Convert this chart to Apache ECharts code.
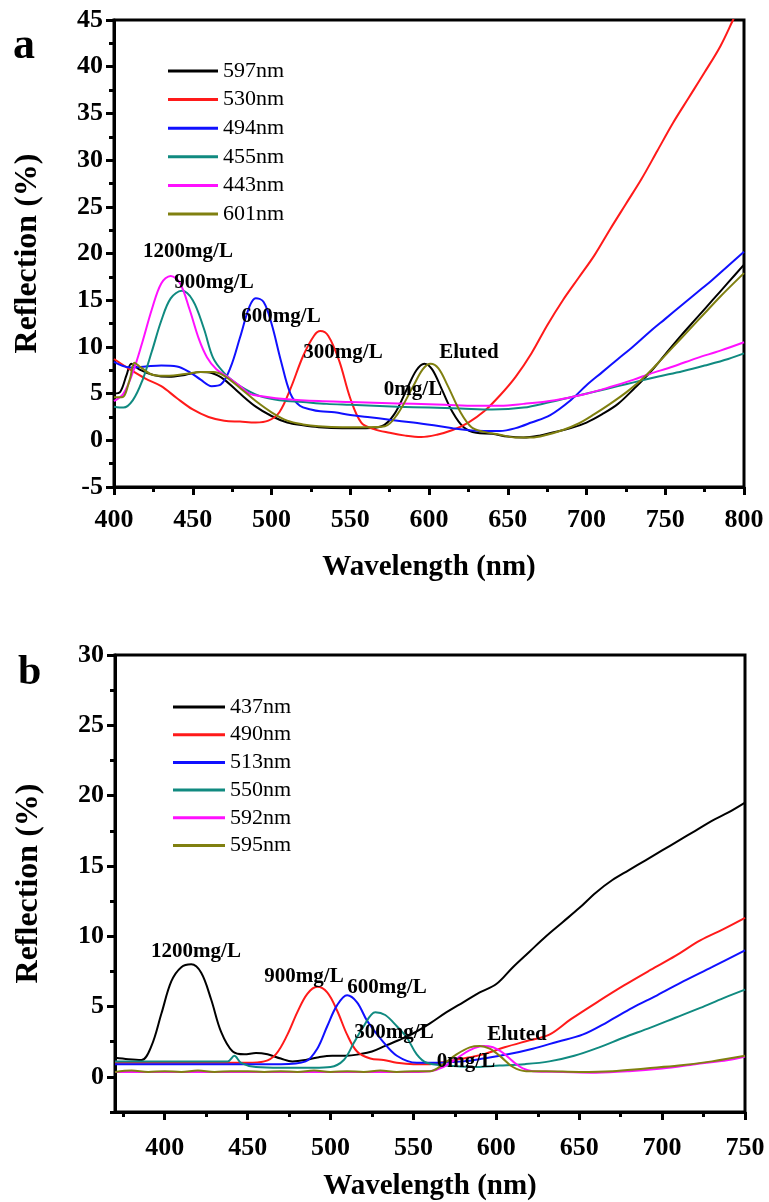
<!DOCTYPE html>
<html>
<head>
<meta charset="utf-8">
<script src="https://cdn.jsdelivr.net/npm/echarts@6/dist/echarts.min.js"></script>
<style>
html,body{margin:0;padding:0;background:#fff;}
#chart{width:769px;height:1202px;}
</style>
</head>
<body>
<div id="chart"></div>
<script>
// ---------- Panel a data ----------
const a597x = [400,404,408,411,416,425,435,445,455,462,470,480,490,500,510,520,530,545,560,570,578,586,592,597,602,608,615,622,630,640,650,660,670,680,690,700,710,720,730,740,750,760,770,780,790,800];
const a597y = [5.0,5.2,7.0,8.2,7.6,7.0,6.8,7.0,7.3,7.2,6.5,5.0,3.6,2.6,1.9,1.6,1.4,1.3,1.3,1.5,2.8,5.5,7.5,8.2,7.6,5.5,3.0,1.4,0.8,0.7,0.4,0.3,0.5,0.9,1.3,1.9,2.8,3.9,5.5,7.2,9.2,11.2,13.1,15.0,16.9,18.8];
const a530x = [400,410,420,430,440,450,460,470,480,490,498,505,512,520,527,531,536,543,550,557,565,575,585,595,605,615,625,635,645,655,665,675,685,695,705,715,725,735,745,755,765,775,785,793,800];
const a530y = [8.7,7.6,6.6,5.8,4.5,3.3,2.5,2.1,2.0,1.9,2.1,3.0,5.5,9.0,11.2,11.7,11.2,8.5,4.5,1.9,1.2,0.8,0.5,0.35,0.6,1.1,1.9,3.1,4.8,6.8,9.3,12.3,15.0,17.4,19.8,22.6,25.3,28.0,31.0,34.0,36.7,39.4,42.2,45.0,47.5];
const a494x = [400,405,410,420,430,440,448,455,462,468,474,480,486,490,495,500,506,512,518,525,531,540,550,561,575,590,603,615,624,635,645,655,665,677,690,700,710,720,730,740,750,760,770,780,790,800];
const a494y = [8.4,8.0,7.8,7.9,8.0,7.9,7.3,6.5,5.8,6.0,7.8,11.0,14.3,15.2,14.8,12.5,8.5,5.0,3.7,3.3,3.1,3.0,2.7,2.5,2.2,1.9,1.6,1.3,1.1,1.0,1.0,1.3,1.9,2.7,4.3,5.9,7.3,8.7,10.1,11.6,13.0,14.4,15.8,17.2,18.7,20.2];
const a455x = [400,406,412,418,424,430,436,443,450,457,463,470,476,483,493,505,520,535,550,565,580,600,620,640,660,677,690,705,720,730,745,761,775,790,800];
const a455y = [3.6,3.5,4.3,6.4,9.5,12.8,15.2,16.0,15.0,12.0,8.8,7.2,6.3,5.5,4.7,4.3,4.1,3.9,3.8,3.7,3.6,3.5,3.4,3.3,3.5,4.1,4.6,5.2,5.8,6.2,6.8,7.4,8.0,8.7,9.3];
const a443x = [400,406,412,418,424,430,436,442,448,454,459,465,472,480,486,495,510,530,550,570,590,610,630,645,660,680,698,715,730,740,755,770,785,800];
const a443y = [4.2,5.0,7.3,10.5,14.0,16.8,17.6,16.8,14.0,10.8,8.9,7.6,6.8,5.8,5.0,4.7,4.4,4.2,4.1,4.0,3.9,3.8,3.7,3.7,3.9,4.3,4.9,5.7,6.5,7.1,7.9,8.8,9.6,10.5];
const a601x = [400,405,410,413,417,425,435,445,455,463,470,480,490,500,510,520,530,545,560,572,580,590,596,601,606,612,620,627,635,645,655,665,675,685,695,705,715,725,735,745,755,765,775,785,800];
const a601y = [4.6,4.6,6.5,8.3,7.8,7.0,6.9,7.1,7.3,7.3,6.9,5.6,4.2,3.0,2.1,1.7,1.5,1.4,1.4,1.5,2.8,5.8,7.6,8.2,7.7,5.8,3.0,1.4,0.9,0.6,0.3,0.3,0.6,1.1,1.8,2.8,3.9,5.1,6.5,8.2,10.0,11.8,13.6,15.4,17.9];

// ---------- Panel b data ----------
const b437x = [370,378,386,392,398,404,410,416,422,428,434,441,448,455,462,470,477,485,493,501,510,517,525,533,541,550,560,570,580,590,600,610,620,630,640,650,660,670,680,690,700,710,720,730,740,750];
const b437y = [1.35,1.25,1.2,2.2,4.5,6.8,7.8,8.0,7.4,5.5,3.2,1.8,1.6,1.7,1.6,1.3,1.1,1.2,1.4,1.5,1.5,1.6,1.8,2.2,2.6,3.1,3.8,4.6,5.3,6.0,6.6,7.8,8.9,10.0,11.0,12.0,13.1,14.0,14.7,15.4,16.1,16.8,17.5,18.2,18.8,19.5];
const b490x = [370,390,410,430,450,460,467,474,480,486,492,498,504,510,516,524,532,540,550,560,570,580,592,605,620,632,645,662,677,693,708,723,737,750];
const b490y = [1.0,1.0,1.0,1.0,1.0,1.1,1.6,3.0,4.6,5.9,6.4,6.0,4.7,3.0,1.8,1.3,1.2,1.0,0.9,0.9,1.1,1.3,1.6,2.1,2.6,3.0,4.1,5.4,6.5,7.6,8.6,9.7,10.5,11.3];
const b513x = [370,390,410,430,450,470,485,492,498,504,510,516,522,531,540,552,565,580,592,607,622,637,652,667,682,697,713,730,750];
const b513y = [0.9,0.9,0.9,0.9,0.9,0.9,1.1,2.0,3.6,5.1,5.8,5.3,4.0,2.6,1.5,1.0,1.0,1.1,1.3,1.6,2.0,2.5,3.0,3.9,4.9,5.8,6.8,7.8,9.0];
const b550x = [370,390,410,430,438,442,446,455,470,490,500,508,514,520,527,533,540,546,552,558,570,585,602,617,632,647,662,677,693,708,723,737,750];
const b550y = [1.1,1.1,1.1,1.1,1.1,1.5,1.0,0.7,0.65,0.65,0.7,1.2,2.4,3.6,4.6,4.4,3.6,2.8,1.6,1.0,0.8,0.7,0.8,0.9,1.1,1.5,2.1,2.8,3.5,4.2,4.9,5.6,6.2];
const b592x = [370,400,450,500,550,560,568,576,584,592,598,604,610,616,622,640,660,680,700,720,740,750];
const b592y = [0.35,0.35,0.35,0.35,0.35,0.4,0.7,1.3,1.9,2.2,2.1,1.7,1.1,0.6,0.4,0.35,0.3,0.4,0.6,0.9,1.2,1.45];
const b595x = [370,380,390,400,410,420,430,440,450,460,470,480,490,500,510,520,530,540,550,560,568,576,584,590,596,603,610,618,630,650,670,690,710,730,750];
const b595y = [0.35,0.45,0.35,0.4,0.35,0.45,0.35,0.4,0.4,0.35,0.4,0.35,0.45,0.35,0.4,0.35,0.45,0.35,0.4,0.4,0.9,1.6,2.1,2.2,2.0,1.4,0.7,0.4,0.4,0.35,0.4,0.6,0.8,1.1,1.5];

// ---------- Labels / ticks ----------
const seriesA = [
  {name:'597nm', x:a597x, y:a597y, color:'#000000'},
  {name:'530nm', x:a530x, y:a530y, color:'#ff1a1a'},
  {name:'494nm', x:a494x, y:a494y, color:'#1010ff'},
  {name:'455nm', x:a455x, y:a455y, color:'#108a80'},
  {name:'443nm', x:a443x, y:a443y, color:'#ff10ff'},
  {name:'601nm', x:a601x, y:a601y, color:'#808010'}
];
const seriesB = [
  {name:'437nm', x:b437x, y:b437y, color:'#000000'},
  {name:'490nm', x:b490x, y:b490y, color:'#ff1a1a'},
  {name:'513nm', x:b513x, y:b513y, color:'#1010ff'},
  {name:'550nm', x:b550x, y:b550y, color:'#108a80'},
  {name:'592nm', x:b592x, y:b592y, color:'#ff10ff'},
  {name:'595nm', x:b595x, y:b595y, color:'#808010'}
];
const bXTicks = [400,450,500,550,600,650,700,750];
const bXMinor = [375,425,475,525,575,625,675,725];
const bYTicks = [0,5,10,15,20,25,30];
const bYMinor = [-2.5,2.5,7.5,12.5,17.5,22.5,27.5];
const annotA = [
  {t:'1200mg/L', x:188, y:252}, {t:'900mg/L', x:214, y:283}, {t:'600mg/L', x:281, y:317},
  {t:'300mg/L', x:343, y:353}, {t:'Eluted', x:469, y:353}, {t:'0mg/L', x:413, y:390}
];
const annotB = [
  {t:'1200mg/L', x:196, y:952}, {t:'900mg/L', x:304, y:977}, {t:'600mg/L', x:387, y:988},
  {t:'300mg/L', x:394, y:1033}, {t:'Eluted', x:517, y:1035}, {t:'0mg/L', x:466, y:1062}
];

const SERIF = '"Liberation Serif", "Times New Roman", serif';
const AX = {color:'#000', width:3};
const tickFont = {color:'#000', fontFamily:SERIF, fontWeight:'bold', fontSize:26};
const nameFontX = {color:'#000', fontFamily:SERIF, fontWeight:'bold', fontSize:29};
const nameFontY = {color:'#000', fontFamily:SERIF, fontWeight:'bold', fontSize:32};

function pairs(x, y){ return x.map((v,i)=>[v, y[i]]); }

const chart = echarts.init(document.getElementById('chart'), null, {renderer:'canvas'});

const border = {show:true, borderColor:'#000', borderWidth:3, backgroundColor:'transparent'};
const grids = [
  Object.assign({left:114, top:20, width:630, height:467, outerBoundsMode:'none', containLabel:false}, border),
  Object.assign({left:115, top:655, width:630, height:457, outerBoundsMode:'none', containLabel:false}, border),
  {left:115, top:655, width:630, height:457, outerBoundsMode:'none', containLabel:false}
];

const xAxes = [
  {gridIndex:0, type:'value', position:'bottom', min:400, max:800, interval:50,
   axisLine:{show:true, onZero:false, lineStyle:AX},
   axisTick:{show:true, inside:false, length:8, lineStyle:{color:'#000', width:3}},
   minorTick:{show:true, splitNumber:2, length:5, lineStyle:{color:'#000', width:3}},
   axisLabel:Object.assign({margin:20}, tickFont), splitLine:{show:false}, minorSplitLine:{show:false},
   name:'Wavelength (nm)', nameLocation:'middle', nameGap:66, nameTextStyle:nameFontX},
  {gridIndex:1, type:'value', position:'bottom', min:370, max:750, interval:10,
   axisLine:{show:true, onZero:false, lineStyle:AX},
   axisTick:{show:true, inside:false, length:8, customValues:bXTicks, lineStyle:{color:'#000', width:3}},
   axisLabel:Object.assign({margin:23, customValues:bXTicks}, tickFont), splitLine:{show:false},
   name:'Wavelength (nm)', nameLocation:'middle', nameGap:60, nameTextStyle:nameFontX},
  {gridIndex:2, type:'value', position:'bottom', min:370, max:750, interval:10,
   axisLine:{show:false, onZero:false},
   axisTick:{show:true, inside:false, length:5, customValues:bXMinor, lineStyle:{color:'#000', width:3}},
   axisLabel:{show:false}, splitLine:{show:false}}
];
const yAxes = [
  {gridIndex:0, type:'value', position:'left', min:-5, max:45, interval:5,
   axisLine:{show:true, onZero:false, lineStyle:AX},
   axisTick:{show:true, inside:false, length:8, lineStyle:{color:'#000', width:3}},
   minorTick:{show:true, splitNumber:2, length:5, lineStyle:{color:'#000', width:3}},
   axisLabel:Object.assign({margin:11}, tickFont), splitLine:{show:false}, minorSplitLine:{show:false},
   name:'Reflection (%)', nameLocation:'middle', nameRotate:90, nameGap:70, nameTextStyle:nameFontY},
  {gridIndex:1, type:'value', position:'left', min:-2.5, max:30, interval:2.5,
   axisLine:{show:true, onZero:false, lineStyle:AX},
   axisTick:{show:true, inside:false, length:8, customValues:bYTicks, lineStyle:{color:'#000', width:3}},
   axisLabel:Object.assign({margin:11, customValues:bYTicks}, tickFont), splitLine:{show:false},
   name:'Reflection (%)', nameLocation:'middle', nameRotate:90, nameGap:70, nameTextStyle:nameFontY},
  {gridIndex:2, type:'value', position:'left', min:-2.5, max:30, interval:2.5,
   axisLine:{show:false, onZero:false},
   axisTick:{show:true, inside:false, length:5, customValues:bYMinor, lineStyle:{color:'#000', width:3}},
   axisLabel:{show:false}, splitLine:{show:false}}
];

const series = [];
seriesA.forEach(s => series.push({type:'line', name:s.name, xAxisIndex:0, yAxisIndex:0,
  data:pairs(s.x, s.y), smooth:0.35, showSymbol:false, symbol:'none', clip:true,
  lineStyle:{color:s.color, width:2}, itemStyle:{color:s.color}, z:3}));
seriesB.forEach(s => series.push({type:'line', name:s.name, xAxisIndex:1, yAxisIndex:1,
  data:pairs(s.x, s.y), smooth:0.35, showSymbol:false, symbol:'none', clip:true,
  lineStyle:{color:s.color, width:2}, itemStyle:{color:s.color}, z:3}));

const legendText = {color:'#000', fontFamily:SERIF, fontSize:22, lineHeight:24};
const legends = [
  {data:seriesA.map(s=>s.name), orient:'vertical', left:163, top:54, itemWidth:50, itemHeight:3,
   icon:'rect', itemGap:4.6, textStyle:legendText, selectedMode:false},
  {data:seriesB.map(s=>s.name), orient:'vertical', left:168, top:690, itemWidth:52, itemHeight:3,
   icon:'rect', itemGap:3.7, textStyle:legendText, selectedMode:false}
];

const annFont = 'bold 21px ' + SERIF;
const graphics = [];
annotA.concat(annotB).forEach(a => graphics.push({type:'text', x:a.x, y:a.y, z:10,
  style:{text:a.t, font:annFont, fill:'#000', textAlign:'center', textVerticalAlign:'middle'}}));
graphics.push({type:'text', x:13, y:47, style:{text:'a', font:'bold 44px ' + SERIF, fill:'#000', textAlign:'left', textVerticalAlign:'middle'}});
graphics.push({type:'text', x:18, y:673, style:{text:'b', font:'bold 42px ' + SERIF, fill:'#000', textAlign:'left', textVerticalAlign:'middle'}});

chart.setOption({
  animation:false,
  backgroundColor:'#ffffff',
  grid:grids,
  xAxis:xAxes,
  yAxis:yAxes,
  legend:legends,
  series:series,
  graphic:graphics
});
</script>
</body>
</html>
